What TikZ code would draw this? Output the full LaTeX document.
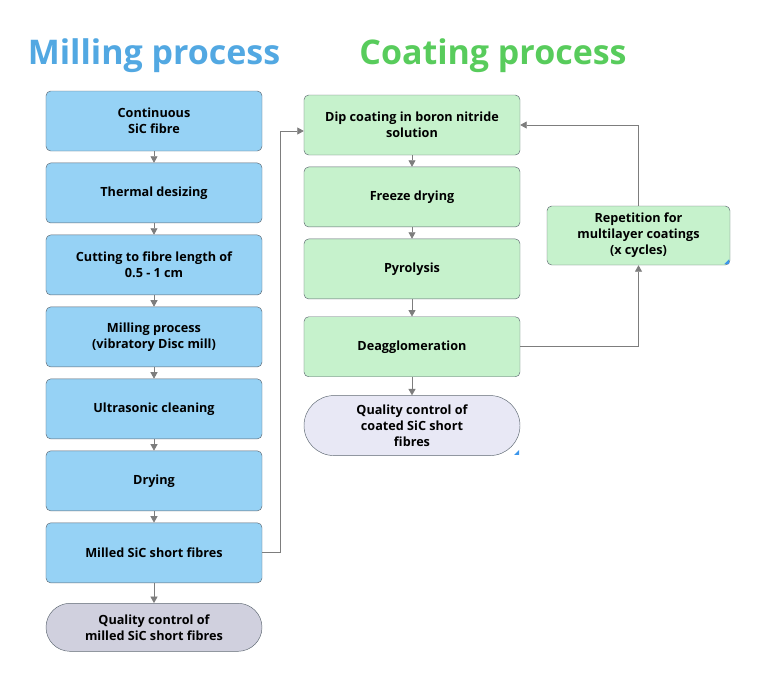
\documentclass[tikz,border=0pt]{standalone}
\usepackage{fontspec}
\setmainfont{Open Sans}
\usetikzlibrary{arrows.meta, positioning}
\definecolor{MillBlue}{RGB}{150, 210, 245}
\definecolor{CoatGreen}{RGB}{198, 242, 204}
\definecolor{QcGrey}{RGB}{208, 208, 222}
\definecolor{QcLight}{RGB}{232, 232, 245}
\definecolor{BoxLine}{RGB}{95, 105, 115}
\definecolor{ArrGrey}{RGB}{125, 125, 125}
\definecolor{TitleBlue}{RGB}{82, 168, 226}
\definecolor{TitleGreen}{RGB}{88, 204, 92}
\definecolor{CornerBlue}{RGB}{60, 150, 235}
\tikzset{
  box/.style={rectangle, rounded corners=4pt, draw=BoxLine, fill=#1,
              minimum width=6.48cm, minimum height=1.8cm,
              font=\fontsize{10.8}{13.6}\selectfont\bfseries, text=black, align=center},
  term/.style={rectangle, rounded corners=#1, draw=BoxLine,
               minimum width=6.48cm, font=\fontsize{10.8}{13.6}\selectfont\bfseries,
               text=black, align=center},
  arr/.style={-{Triangle[length=5.5pt, width=6pt]}, draw=ArrGrey, semithick},
  title/.style={font=\fontsize{29}{32}\selectfont\bfseries, text=#1},
  corner/.style={fill=CornerBlue},
}
\begin{document}
\begin{tikzpicture}[x=0.03cm, y=-0.03cm]
  \useasboundingbox (0,0) rectangle (757,691);

  % headings
  \node[title=TitleBlue]  (milltitle) at (154,56) {Milling process};
  \node[title=TitleGreen] (coattitle) at (493,56) {Coating process};

  % milling column
  \node[box=MillBlue] (fibre) at (154,121) {Continuous\\SiC fibre};
  \node[box=MillBlue, below=0.345cm of fibre] (desize) {Thermal desizing};
  \node[box=MillBlue, below=0.345cm of desize] (cut) {Cutting to fibre length of\\0.5 - 1 cm};
  \node[box=MillBlue, below=0.345cm of cut] (mill) {Milling process\\(vibratory Disc mill)};
  \node[box=MillBlue, below=0.345cm of mill] (ultra) {Ultrasonic cleaning};
  \node[box=MillBlue, below=0.345cm of ultra] (dry) {Drying};
  \node[box=MillBlue, below=0.345cm of dry] (short) {Milled SiC short fibres};
  \node[term=0.72cm, fill=QcGrey, minimum height=1.44cm, below=0.6cm of short] (qcmill)
       {Quality control of\\milled SiC short fibres};

  % coating column
  \node[box=CoatGreen] (dip) at (412,125) {Dip coating in boron nitride\\solution};
  \node[box=CoatGreen, below=0.345cm of dip] (freeze) {Freeze drying};
  \node[box=CoatGreen, below=0.345cm of freeze] (pyro) {Pyrolysis};
  \node[box=CoatGreen, below=0.52cm of pyro] (deagg) {Deagglomeration};
  \node[term=0.9cm, fill=QcLight, minimum height=1.8cm, below=0.55cm of deagg] (qccoat)
       {Quality control of\\coated SiC short\\fibres};
  \node[box=CoatGreen, minimum width=5.49cm, minimum height=1.77cm] (rep) at (638.5,235.5)
       {Repetition for\\multilayer coatings\\(x cycles)};

  \fill[corner] (rep.south east) ++(-1,-1) -- ++(-5,0) -- ++(5,-5) -- cycle;
  \fill[corner] (qccoat.south east) ++(-1,-1) -- ++(-5,0) -- ++(5,-5) -- cycle;

  % arrows
  \draw[arr] (fibre) -- (desize);
  \draw[arr] (desize) -- (cut);
  \draw[arr] (cut) -- (mill);
  \draw[arr] (mill) -- (ultra);
  \draw[arr] (ultra) -- (dry);
  \draw[arr] (dry) -- (short);
  \draw[arr] (short) -- (qcmill);
  \draw[arr] (short.east) -- ++(18,0) |- ([yshift=-0.18cm]dip.west);
  \draw[arr] (dip) -- (freeze);
  \draw[arr] (freeze) -- (pyro);
  \draw[arr] (pyro) -- (deagg);
  \draw[arr] (deagg) -- (qccoat);
  \draw[arr] (deagg.east) -| (rep.south);
  \draw[arr] (rep.north) |- (dip.east);
\end{tikzpicture}
\end{document}
